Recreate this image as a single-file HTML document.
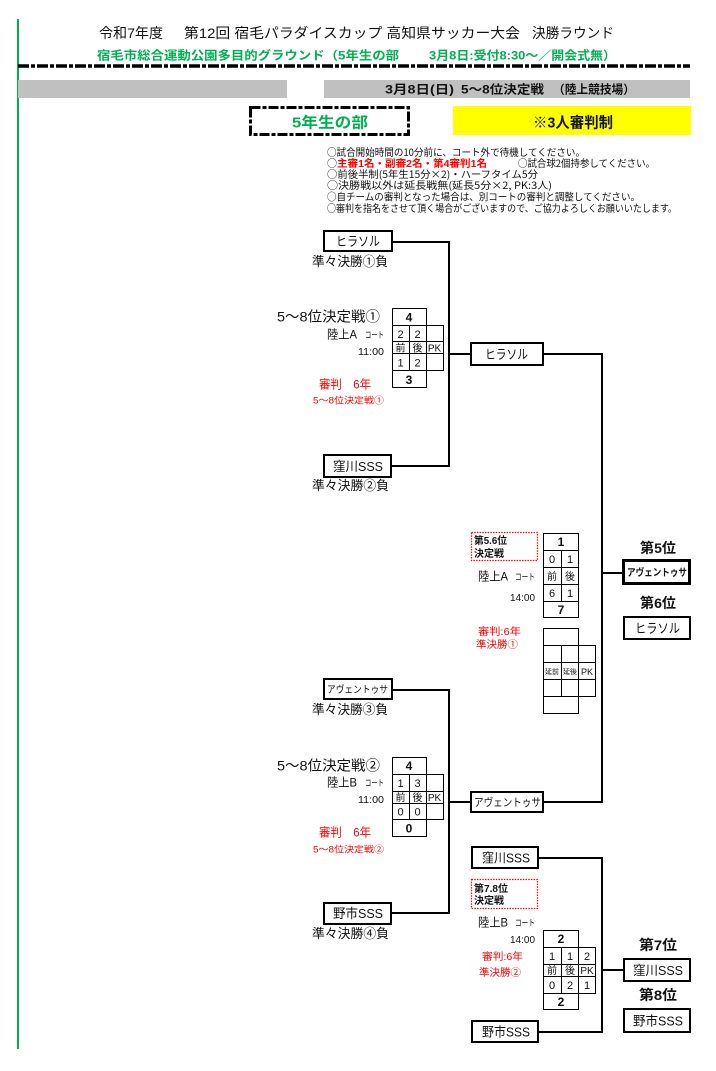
<!DOCTYPE html>
<html><head><meta charset="utf-8">
<style>
html,body{margin:0;padding:0;background:#fff;}
svg{display:block;}
text{font-family:"Liberation Sans","Noto Sans CJK JP",sans-serif;fill:#111;}
.n{font-family:"Noto Sans CJK JP","Liberation Sans",sans-serif;}
.b{font-weight:bold;}
.r{fill:#ff0000;}
.g{fill:#00b050;}
.c{text-anchor:middle;}
.box{fill:#fff;stroke:#000;stroke-width:2;}
.ln{fill:none;stroke:#000;stroke-width:2;}
.t{fill:none;stroke:#000;stroke-width:1;}
</style></head><body>
<svg width="716" height="1071" viewBox="0 0 716 1071" xmlns="http://www.w3.org/2000/svg">
<rect x="17" y="19" width="2" height="1030" fill="#00b050"/>

<!-- Header -->
<text x="99" y="38" font-size="14" textLength="64" lengthAdjust="spacingAndGlyphs">令和7年度</text>
<text x="184" y="38" font-size="14" textLength="336" lengthAdjust="spacingAndGlyphs">第12回 宿毛パラダイスカップ 高知県サッカー大会</text>
<text x="532" y="38" font-size="14" textLength="82" lengthAdjust="spacingAndGlyphs">決勝ラウンド</text>
<text x="97" y="59.5" font-size="12" class="b g" textLength="302" lengthAdjust="spacingAndGlyphs">宿毛市総合運動公園多目的グラウンド（5年生の部</text>
<text x="429" y="59.5" font-size="12" class="b g" textLength="187" lengthAdjust="spacingAndGlyphs">3月8日:受付8:30～／開会式無）</text>
<line x1="18" y1="66" x2="690" y2="66" stroke="#000" stroke-width="3.5" stroke-dasharray="11 2 4 2"/>

<rect x="18" y="80" width="269" height="18" fill="#c0c0c0"/>
<rect x="324" y="80" width="366" height="18" fill="#c0c0c0"/>
<text x="385" y="93.5" font-size="12" class="b" textLength="69" lengthAdjust="spacingAndGlyphs">3月8日(日)</text>
<text x="461" y="93.5" font-size="12" class="b" textLength="83" lengthAdjust="spacingAndGlyphs">5～8位決定戦</text>
<text x="553" y="93.5" font-size="12" class="b" textLength="82" lengthAdjust="spacingAndGlyphs">（陸上競技場）</text>

<rect x="250.5" y="107.5" width="158" height="27" fill="none" stroke="#000" stroke-width="3" stroke-dasharray="10 2 4 2"/>
<text x="292" y="127.7" font-size="15" class="b g" textLength="76" lengthAdjust="spacingAndGlyphs">5年生の部</text>
<rect x="453" y="106" width="238" height="29" fill="#ffff00"/>
<text x="533" y="127.7" font-size="15" class="b" textLength="80" lengthAdjust="spacingAndGlyphs">※3人審判制</text>

<!-- Notes -->
<text class="n" x="327" y="156" font-size="10" textLength="258" lengthAdjust="spacingAndGlyphs">○試合開始時間の10分前に、コート外で待機してください。</text>
<text class="n" x="327" y="167" font-size="10" textLength="10" lengthAdjust="spacingAndGlyphs">○</text>
<text x="337" y="167" font-size="10" class="b r" textLength="150" lengthAdjust="spacingAndGlyphs">主審1名・副審2名・第4審判1名</text>
<text class="n" x="518" y="167" font-size="10" textLength="137" lengthAdjust="spacingAndGlyphs">○試合球2個持参してください。</text>
<text class="n" x="327" y="178" font-size="10" textLength="211" lengthAdjust="spacingAndGlyphs">○前後半制(5年生15分×2)・ハーフタイム5分</text>
<text class="n" x="327" y="189" font-size="10" textLength="225" lengthAdjust="spacingAndGlyphs">○決勝戦以外は延長戦無(延長5分×2, PK:3人)</text>
<text class="n" x="327" y="200.5" font-size="10" textLength="313" lengthAdjust="spacingAndGlyphs">○自チームの審判となった場合は、別コートの審判と調整してください。</text>
<text class="n" x="327" y="212" font-size="10" textLength="350" lengthAdjust="spacingAndGlyphs">○審判を指名をさせて頂く場合がございますので、ご協力よろしくお願いいたします。</text>

<!-- Connectors -->
<path class="ln" d="M393 242 H449 V466 H392"/>
<path class="ln" d="M449 354 H470"/>
<path class="ln" d="M544 354 H602 V802 H544"/>
<path class="ln" d="M602 573 H622"/>
<path class="ln" d="M393 690 H449 V913 H392"/>
<path class="ln" d="M449 802 H470"/>
<path class="ln" d="M539 858 H602 V1032 H539"/>
<path class="ln" d="M602 970 H623"/>

<!-- Left top bracket -->
<rect class="box" x="324" y="231" width="68" height="20"/>
<text x="336" y="246" font-size="13" textLength="44" lengthAdjust="spacingAndGlyphs">ヒラソル</text>
<text x="312" y="266" font-size="13" textLength="76" lengthAdjust="spacingAndGlyphs">準々決勝①負</text>

<text x="277" y="321.5" font-size="14" textLength="103" lengthAdjust="spacingAndGlyphs">5～8位決定戦①</text>
<text x="327" y="338.5" font-size="12" textLength="30" lengthAdjust="spacingAndGlyphs">陸上A</text>
<text x="365" y="338" font-size="9" textLength="19" lengthAdjust="spacingAndGlyphs">コート</text>
<text x="358" y="355" font-size="10" textLength="26" lengthAdjust="spacingAndGlyphs">11:00</text>
<text x="319" y="388.5" font-size="12" class="r" textLength="52" lengthAdjust="spacingAndGlyphs">審判　6年</text>
<text x="313" y="403.5" font-size="9" class="r" textLength="71" lengthAdjust="spacingAndGlyphs">5～8位決定戦①</text>

<!-- table 1 -->
<rect class="t" x="392.5" y="308.5" width="34" height="17"/>
<rect class="t" x="392.5" y="325.5" width="51" height="45"/>
<path class="t" d="M392 341.5 H443 M392 353.5 H443 M409.5 326 V371 M426.5 326 V371"/>
<rect class="t" x="392.5" y="370.5" width="34" height="17"/>
<text x="409" y="321.5" font-size="12" class="b c">4</text>
<text x="400.5" y="338" font-size="11" class="c">2</text>
<text x="417.5" y="338" font-size="11" class="c">2</text>
<text x="400.5" y="351.5" font-size="10" class="c">前</text>
<text x="417.5" y="351.5" font-size="10" class="c">後</text>
<text x="434.5" y="351.5" font-size="10" class="c">PK</text>
<text x="400.5" y="366.5" font-size="11" class="c">1</text>
<text x="417.5" y="366.5" font-size="11" class="c">2</text>
<text x="409" y="384" font-size="12" class="b c">3</text>

<rect class="box" x="471" y="343" width="72" height="22"/>
<text x="485" y="359" font-size="13" textLength="43" lengthAdjust="spacingAndGlyphs">ヒラソル</text>

<rect class="box" x="324" y="455" width="67" height="22"/>
<text x="333" y="471" font-size="13" textLength="50" lengthAdjust="spacingAndGlyphs">窪川SSS</text>
<text x="312" y="490" font-size="13" textLength="77" lengthAdjust="spacingAndGlyphs">準々決勝②負</text>

<!-- 5/6 -->
<rect x="471.5" y="532.5" width="66" height="28" fill="none" stroke="#ff0000" stroke-width="1.2" stroke-dasharray="1.5 1.2"/>
<text x="474" y="544" font-size="10" class="b" textLength="33" lengthAdjust="spacingAndGlyphs">第5.6位</text>
<text x="474" y="557" font-size="10" class="b" textLength="30" lengthAdjust="spacingAndGlyphs">決定戦</text>
<text x="478" y="580.5" font-size="12" textLength="30" lengthAdjust="spacingAndGlyphs">陸上A</text>
<text x="515" y="580" font-size="9" textLength="20" lengthAdjust="spacingAndGlyphs">コート</text>
<text x="510" y="601" font-size="10" textLength="25" lengthAdjust="spacingAndGlyphs">14:00</text>
<text x="478" y="635" font-size="10" class="r" textLength="43" lengthAdjust="spacingAndGlyphs">審判:6年</text>
<text x="476" y="648" font-size="10" class="r" textLength="42" lengthAdjust="spacingAndGlyphs">準決勝①</text>

<rect class="t" x="543.5" y="533.5" width="35" height="84"/>
<path class="t" d="M543 550.5 H579 M543 567.5 H579 M543 584.5 H579 M543 601.5 H579 M561.5 550 V601"/>
<text x="561" y="546" font-size="12" class="b c">1</text>
<text x="552" y="563" font-size="11" class="c">0</text>
<text x="570" y="563" font-size="11" class="c">1</text>
<text x="552" y="580" font-size="10" class="c">前</text>
<text x="570" y="580" font-size="10" class="c">後</text>
<text x="552" y="597" font-size="11" class="c">6</text>
<text x="570" y="597" font-size="11" class="c">1</text>
<text x="561" y="614" font-size="12" class="b c">7</text>

<!-- empty table -->
<rect class="t" x="543.5" y="628.5" width="35" height="17"/>
<rect class="t" x="543.5" y="645.5" width="52" height="51"/>
<path class="t" d="M543 662.5 H596 M543 679.5 H596 M561.5 645 V697 M578.5 645 V697"/>
<rect class="t" x="543.5" y="696.5" width="35" height="17"/>
<text x="552" y="674" font-size="7" class="c">延前</text>
<text x="570" y="674" font-size="7" class="c">延後</text>
<text x="587" y="675" font-size="9" class="c">PK</text>

<text x="640" y="553" font-size="14" class="b" textLength="36" lengthAdjust="spacingAndGlyphs">第5位</text>
<rect x="623.5" y="560.5" width="66" height="23" fill="#fff" stroke="#000" stroke-width="3"/>
<text x="627" y="576" font-size="10" class="b" textLength="60" lengthAdjust="spacingAndGlyphs">アヴェントゥサ</text>
<text x="640" y="608" font-size="14" class="b" textLength="36" lengthAdjust="spacingAndGlyphs">第6位</text>
<rect class="box" x="624" y="617" width="66" height="22"/>
<text x="635" y="633" font-size="13" textLength="45" lengthAdjust="spacingAndGlyphs">ヒラソル</text>

<!-- Left bottom bracket -->
<rect class="box" x="324" y="679" width="68" height="20"/>
<text x="327" y="693" font-size="10" textLength="61" lengthAdjust="spacingAndGlyphs">アヴェントゥサ</text>
<text x="312" y="714" font-size="13" textLength="76" lengthAdjust="spacingAndGlyphs">準々決勝③負</text>

<text x="277" y="770.5" font-size="14" textLength="103" lengthAdjust="spacingAndGlyphs">5～8位決定戦②</text>
<text x="327" y="786.5" font-size="12" textLength="30" lengthAdjust="spacingAndGlyphs">陸上B</text>
<text x="365" y="786" font-size="9" textLength="19" lengthAdjust="spacingAndGlyphs">コート</text>
<text x="358" y="803" font-size="10" textLength="26" lengthAdjust="spacingAndGlyphs">11:00</text>
<text x="319" y="836.5" font-size="12" class="r" textLength="52" lengthAdjust="spacingAndGlyphs">審判　6年</text>
<text x="313" y="852.5" font-size="9" class="r" textLength="71" lengthAdjust="spacingAndGlyphs">5～8位決定戦②</text>

<rect class="t" x="392.5" y="757.5" width="34" height="17"/>
<rect class="t" x="392.5" y="774.5" width="51" height="45"/>
<path class="t" d="M392 791.5 H443 M392 803.5 H443 M409.5 775 V820 M426.5 775 V820"/>
<rect class="t" x="392.5" y="819.5" width="34" height="17"/>
<text x="409" y="770" font-size="12" class="b c">4</text>
<text x="400.5" y="787" font-size="11" class="c">1</text>
<text x="417.5" y="787" font-size="11" class="c">3</text>
<text x="400.5" y="801" font-size="10" class="c">前</text>
<text x="417.5" y="801" font-size="10" class="c">後</text>
<text x="434.5" y="801" font-size="10" class="c">PK</text>
<text x="400.5" y="815.5" font-size="11" class="c">0</text>
<text x="417.5" y="815.5" font-size="11" class="c">0</text>
<text x="409" y="832.5" font-size="12" class="b c">0</text>

<rect class="box" x="471" y="792" width="72" height="20"/>
<text x="474" y="806" font-size="11" textLength="67" lengthAdjust="spacingAndGlyphs">アヴェントゥサ</text>

<rect class="box" x="324" y="903" width="67" height="21"/>
<text x="333" y="918" font-size="13" textLength="50" lengthAdjust="spacingAndGlyphs">野市SSS</text>
<text x="312" y="938" font-size="13" textLength="77" lengthAdjust="spacingAndGlyphs">準々決勝④負</text>

<!-- 7/8 -->
<rect class="box" x="472" y="847" width="66" height="21"/>
<text x="482" y="862.5" font-size="13" textLength="48" lengthAdjust="spacingAndGlyphs">窪川SSS</text>
<rect x="471.5" y="879.5" width="66" height="29" fill="none" stroke="#ff0000" stroke-width="1.2" stroke-dasharray="1.5 1.2"/>
<text x="474" y="892" font-size="10" class="b" textLength="34" lengthAdjust="spacingAndGlyphs">第7.8位</text>
<text x="474" y="904" font-size="10" class="b" textLength="30" lengthAdjust="spacingAndGlyphs">決定戦</text>
<text x="478" y="926.5" font-size="12" textLength="30" lengthAdjust="spacingAndGlyphs">陸上B</text>
<text x="515" y="926" font-size="9" textLength="20" lengthAdjust="spacingAndGlyphs">コート</text>
<text x="510" y="943" font-size="10" textLength="25" lengthAdjust="spacingAndGlyphs">14:00</text>
<text x="482" y="960" font-size="10" class="r" textLength="41" lengthAdjust="spacingAndGlyphs">審判:6年</text>
<text x="479" y="976" font-size="10" class="r" textLength="42" lengthAdjust="spacingAndGlyphs">準決勝②</text>

<rect class="t" x="543.5" y="930.5" width="35" height="17"/>
<rect class="t" x="543.5" y="947.5" width="52" height="46"/>
<path class="t" d="M543 964.5 H596 M543 976.5 H596 M561.5 947 V994 M578.5 947 V994"/>
<rect class="t" x="543.5" y="993.5" width="35" height="16"/>
<text x="561" y="943" font-size="12" class="b c">2</text>
<text x="552" y="960" font-size="11" class="c">1</text>
<text x="570" y="960" font-size="11" class="c">1</text>
<text x="587" y="960" font-size="11" class="c">2</text>
<text x="552" y="974" font-size="10" class="c">前</text>
<text x="570" y="974" font-size="10" class="c">後</text>
<text x="587" y="974" font-size="10" class="c">PK</text>
<text x="552" y="989" font-size="11" class="c">0</text>
<text x="570" y="989" font-size="11" class="c">2</text>
<text x="587" y="989" font-size="11" class="c">1</text>
<text x="561" y="1006" font-size="12" class="b c">2</text>

<rect class="box" x="472" y="1021" width="66" height="21"/>
<text x="482" y="1036.5" font-size="13" textLength="48" lengthAdjust="spacingAndGlyphs">野市SSS</text>

<text x="639" y="950" font-size="14" class="b" textLength="38" lengthAdjust="spacingAndGlyphs">第7位</text>
<rect class="box" x="624" y="959" width="66" height="22"/>
<text x="633" y="975" font-size="13" textLength="50" lengthAdjust="spacingAndGlyphs">窪川SSS</text>
<text x="639" y="1000" font-size="14" class="b" textLength="38" lengthAdjust="spacingAndGlyphs">第8位</text>
<rect class="box" x="624" y="1009" width="66" height="23"/>
<text x="633" y="1025.5" font-size="13" textLength="50" lengthAdjust="spacingAndGlyphs">野市SSS</text>
</svg>
</body></html>
